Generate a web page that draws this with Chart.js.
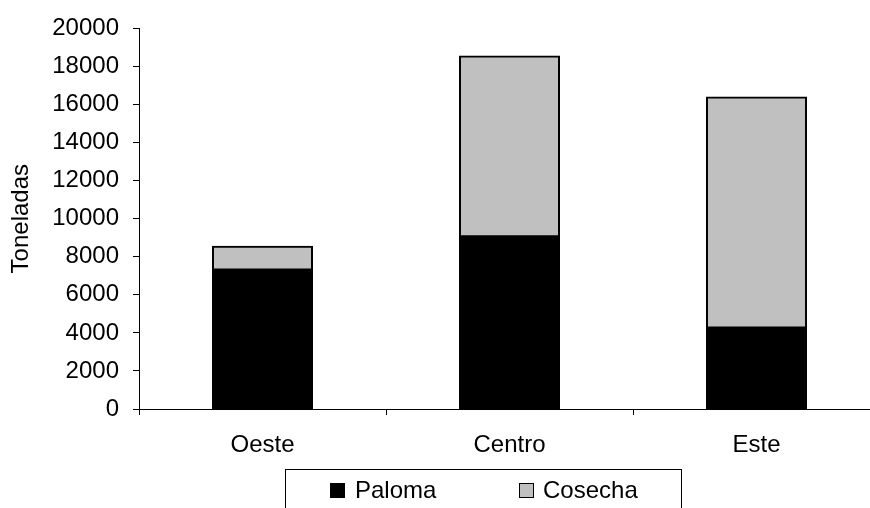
<!DOCTYPE html>
<html>
<head>
<meta charset="utf-8">
<script src="https://cdn.jsdelivr.net/npm/chart.js@4/dist/chart.umd.min.js"></script>
<style>
  html, body { margin: 0; padding: 0; background: #fff; overflow: hidden; }
  #wrap { width: 870px; height: 508px; overflow: hidden; position: relative; }
  canvas { display: block; }
</style>
</head>
<body>
<div id="wrap"><canvas id="c" width="880" height="508"></canvas></div>
<script>
// Regiones y toneladas por origen
const regiones = ['Oeste', 'Centro', 'Este'];
const paloma = [7300, 9050, 4250];
const cosecha = [1250, 9500, 12150];
const serieNombres = ['Paloma', 'Cosecha'];
const serieColores = ['#000000', '#C0C0C0'];

const FONT = 'Liberation Sans, Arial, sans-serif';
const FS = 24;

// Leyenda enmarcada bajo el eje de categorías
const legendBox = {
  id: 'legendBox',
  afterDraw(chart) {
    const ctx = chart.ctx;
    ctx.save();
    ctx.strokeStyle = '#000';
    ctx.lineWidth = 1;
    ctx.strokeRect(285.5, 469.5, 396, 60);
    const items = [
      { sx: 330, tx: 355 },
      { sx: 519, tx: 543 }
    ];
    ctx.font = FS + 'px ' + FONT;
    ctx.textBaseline = 'alphabetic';
    ctx.textAlign = 'left';
    chart.data.datasets.forEach((ds, i) => {
      const it = items[i];
      ctx.fillStyle = ds.backgroundColor;
      ctx.fillRect(it.sx, 483, 15, 15);
      ctx.strokeStyle = '#000';
      ctx.lineWidth = 1;
      ctx.strokeRect(it.sx + 0.5, 483.5, 14, 14);
      ctx.fillStyle = '#000';
      ctx.fillText(ds.label, it.tx, 498);
    });
    ctx.restore();
  }
};

new Chart(document.getElementById('c'), {
  type: 'bar',
  data: {
    labels: regiones,
    datasets: [
      { label: serieNombres[0], data: paloma, backgroundColor: serieColores[0] },
      { label: serieNombres[1], data: cosecha, backgroundColor: serieColores[1] }
    ]
  },
  options: {
    responsive: false,
    animation: false,
    devicePixelRatio: 1,
    layout: { padding: { top: 26, right: 0, bottom: 0, left: 0 } },
    datasets: {
      bar: {
        borderColor: '#000',
        borderWidth: 2,
        borderSkipped: false,
        inflateAmount: 0.5,
        categoryPercentage: 1,
        barPercentage: 0.405
      }
    },
    plugins: {
      legend: { display: false },
      tooltip: { enabled: false }
    },
    scales: {
      x: {
        stacked: true,
        afterFit(scale) { scale.height = 99; },
        border: { display: true, color: '#000', width: 1 },
        grid: {
          display: true, offset: true, drawOnChartArea: false,
          drawTicks: true, tickLength: 6, color: '#000'
        },
        ticks: { color: '#000', padding: 16, font: { family: FONT, size: FS } }
      },
      y: {
        stacked: true,
        min: 0,
        max: 20000,
        afterFit(scale) { scale.width = 139; },
        border: { display: true, color: '#000', width: 1 },
        grid: {
          display: true, drawOnChartArea: false,
          drawTicks: true, tickLength: 6, color: '#000'
        },
        ticks: {
          stepSize: 2000, color: '#000', padding: 14,
          font: { family: FONT, size: FS },
          callback: v => String(v)
        },
        title: {
          display: true, text: 'Toneladas', color: '#000',
          padding: { top: 7, bottom: 0 },
          font: { family: FONT, size: FS }
        }
      }
    }
  },
  plugins: [legendBox]
});
</script>
</body>
</html>
